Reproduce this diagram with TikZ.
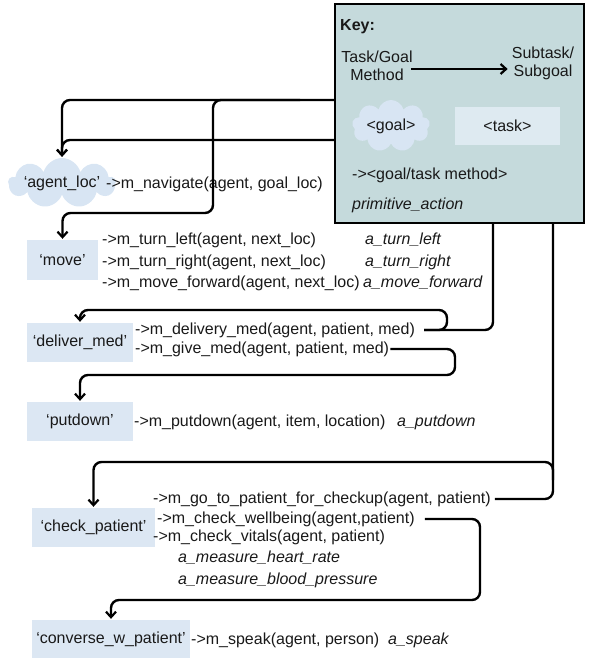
\documentclass[tikz,border=0pt]{standalone}
\usepackage{fontspec}
\setmainfont{Liberation Sans}
\usetikzlibrary{arrows.meta,shapes.symbols}
\definecolor{keyfill}{RGB}{197,218,220}
\definecolor{taskfill}{RGB}{220,231,243}
\definecolor{cloudfill}{RGB}{216,229,243}
\definecolor{keytask}{RGB}{222,234,241}
\definecolor{ink}{RGB}{25,25,25}
\begin{document}
\begin{tikzpicture}[x=1pt,y=-1pt,
  font=\fontsize{16}{18}\selectfont,
  txt/.style={anchor=west,inner sep=0pt,text=ink},
  act/.style={txt,font=\fontsize{16}{18}\selectfont\itshape},
  taskbox/.style={fill=taskfill,draw=none,inner sep=0pt,text=ink},
  goalcloud/.style={cloud,cloud puffs=9,cloud ignores aspect,fill=cloudfill,draw=none,inner sep=0pt,text=ink},
  conn/.style={draw=black,line width=2.4pt,rounded corners=8pt},
  arr/.style={conn,-{Straight Barb[length=5.5pt,width=10pt,line width=2.2pt]},shorten >=1pt}
]
\useasboundingbox (0,0) rectangle (590,660);

% ---------- nodes ----------
\node[goalcloud,minimum width=100pt,minimum height=50pt] (agentloc) at (62,183) {‘agent\_loc’};
\node[txt] (navmeth) at (106,184) {->m\_navigate(agent, goal\_loc)};

\node[taskbox,minimum width=71pt,minimum height=40pt] (move) at (62.5,260) {‘move’};
\node[txt] (tlmeth) at (102,240) {->m\_turn\_left(agent, next\_loc)};
\node[txt] (trmeth) at (102,262) {->m\_turn\_right(agent, next\_loc)};
\node[txt] (mfmeth) at (102,283) {->m\_move\_forward(agent, next\_loc)};
\node[act] (tlact) at (365,240) {a\_turn\_left};
\node[act] (tract) at (365,262) {a\_turn\_right};
\node[act] (mfact) at (363,283) {a\_move\_forward};

\node[taskbox,minimum width=106pt,minimum height=39pt] (delbox) at (80,342.5) {‘deliver\_med’};
\node[txt] (delmeth) at (135,330) {->m\_delivery\_med(agent, patient, med)};
\node[txt] (givemeth) at (135,349) {->m\_give\_med(agent, patient, med)};

\node[taskbox,minimum width=106pt,minimum height=39pt] (putbox) at (80,421.5) {‘putdown’};
\node[txt] (putmeth) at (134,422) {->m\_putdown(agent, item, location)};
\node[act] (putact) at (397,422) {a\_putdown};

\node[taskbox,minimum width=123pt,minimum height=39pt] (chkbox) at (93.5,527.5) {‘check\_patient’};
\node[txt] (gotop) at (153,499) {->m\_go\_to\_patient\_for\_checkup(agent, patient)};
\node[txt] (wellmeth) at (157,519) {->m\_check\_wellbeing(agent,patient)};
\node[txt] (vitmeth) at (153,537) {->m\_check\_vitals(agent, patient)};
\node[act] (hract) at (178,558) {a\_measure\_heart\_rate};
\node[act] (bpact) at (178,580) {a\_measure\_blood\_pressure};

\node[taskbox,minimum width=158pt,minimum height=38pt] (convbox) at (111,639) {‘converse\_w\_patient’};
\node[txt] (speakmeth) at (191,640) {->m\_speak(agent, person)};
\node[act] (speakact) at (388,640) {a\_speak};

\coordinate (navbranch) at (300,100);
\coordinate (chkbranch) at (553,480);

% ---------- connectors ----------
\draw[arr] ([xshift=4pt]gotop.east) -| (553,100) -| (agentloc.north);
\draw[arr] ([xshift=9pt]delmeth.east) -| (493,140) -| (agentloc.north);
\draw[arr] (navbranch) -| (213,213) -| (move.north);
\draw[arr] ([xshift=9pt]delmeth.east) -| (447,310) -| (delbox.north);
\draw[arr] ([xshift=1pt]givemeth.east) -| (455,375) -| (putbox.north);
\draw[arr] (chkbranch) |- (93.5,462) -- (chkbox.north);
\draw[arr] ([xshift=10pt]wellmeth.east) -| (480,600) -| (convbox.north);

% ---------- key ----------
\node[draw=black,line width=2.8pt,fill=keyfill,minimum width=249pt,minimum height=219pt,inner sep=0pt] (key) at (459.5,113.5) {};
\node[txt,font=\fontsize{16}{18}\selectfont\bfseries] (keytitle) at (340,27) {Key:};
\node[inner sep=0pt,align=center,text=ink] (keysrc) at (377,66) {Task/Goal\\Method};
\node[inner sep=0pt,align=center,text=ink] (keydst) at (543,63) {Subtask/\\Subgoal};
\draw[conn,-{Straight Barb[length=5.5pt,width=10pt,line width=2.2pt]}] ([yshift=-3pt,xshift=-2pt]keysrc.east) -- ([yshift=-6pt,xshift=-4pt]keydst.west);
\node[goalcloud,minimum width=78pt,minimum height=52pt] (keygoal) at (391,126) {<goal>};
\node[fill=keytask,minimum width=105pt,minimum height=38pt,inner sep=0pt,text=ink] (keytask) at (507.5,126) {<task>};
\node[txt] (keymeth) at (352,175) {-><goal/task method>};
\node[act] (keyprim) at (352,205) {primitive\_action};
\end{tikzpicture}
\end{document}
